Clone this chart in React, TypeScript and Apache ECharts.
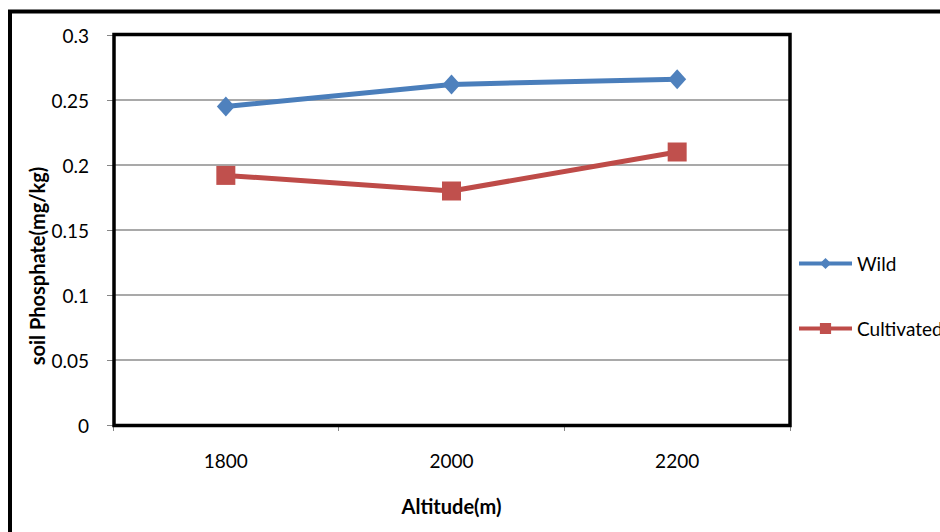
import React, { useEffect, useRef } from "react";
import * as echarts from "echarts";

// Soil phosphate by altitude for wild and cultivated sites
const altitudes = ["1800", "2000", "2200"];
const wildValues = [0.245, 0.262, 0.266];
const cultivatedValues = [0.192, 0.18, 0.21];
const yTicks = { min: 0, max: 0.3, interval: 0.05 };

const FONT = "Lato, 'Open Sans', sans-serif";

export default function App() {
  const ref = useRef<HTMLDivElement>(null);

  useEffect(() => {
    if (!ref.current) return;
    const chart = echarts.init(ref.current, null, { renderer: "svg" });
    chart.setOption({
      animation: false,
      backgroundColor: "#ffffff",
      textStyle: { fontFamily: FONT, color: "#000" },
      grid: { left: 113, right: 150, top: 35, bottom: 107, containLabel: false },
      legend: {
        orient: "vertical",
        left: 797,
        top: 254,
        padding: 0,
        itemWidth: 53,
        itemHeight: 14,
        itemGap: 46,
        lineStyle: { width: 4 },
        textStyle: { fontFamily: FONT, fontSize: 19, color: "#000" },
        data: ["Wild", "Cultivated"],
      },
      xAxis: {
        type: "category",
        data: altitudes,
        boundaryGap: true,
        name: "Altitude(m)",
        nameLocation: "middle",
        nameGap: 71,
        nameTextStyle: { fontFamily: FONT, fontSize: 20, fontWeight: "bold", color: "#000" },
        axisLine: { lineStyle: { color: "#868686", width: 1 } },
        axisTick: { show: true, length: 6, lineStyle: { color: "#868686" } },
        axisLabel: { margin: 26, fontFamily: FONT, fontSize: 19, color: "#000" },
      },
      yAxis: {
        type: "value",
        min: yTicks.min,
        max: yTicks.max,
        interval: yTicks.interval,
        axisLine: { show: true, lineStyle: { color: "#868686", width: 1 } },
        axisTick: { show: true, length: 6, lineStyle: { color: "#868686" } },
        axisLabel: {
          margin: 24,
          fontFamily: FONT,
          fontSize: 19,
          color: "#000",
          formatter: (v: number) => String(parseFloat(v.toFixed(2))),
        },
        splitLine: { show: true, lineStyle: { color: "#8c8c8c", width: 1.5 } },
      },
      series: [
        {
          name: "Wild",
          type: "line",
          data: wildValues,
          symbol: "diamond",
          symbolSize: [18, 20],
          lineStyle: { color: "#4A7EBB", width: 5 },
          itemStyle: { color: "#4F81BD" },
          z: 3,
        },
        {
          name: "Cultivated",
          type: "line",
          data: cultivatedValues,
          symbol: "rect",
          symbolSize: 19,
          lineStyle: { color: "#BE4B48", width: 5 },
          itemStyle: { color: "#C0504D" },
          z: 3,
        },
      ],
      graphic: [
        // outer chart frame, running off the right and bottom edges
        {
          type: "rect",
          z: 100,
          silent: true,
          shape: { x: 10, y: 11.5, width: 1000, height: 600 },
          style: { fill: "none", stroke: "#000", lineWidth: 4 },
        },
        // plot area frame
        {
          type: "rect",
          z: 100,
          silent: true,
          shape: { x: 114, y: 34.5, width: 676, height: 391 },
          style: { fill: "none", stroke: "#000", lineWidth: 3.5 },
        },
        {
          type: "text",
          z: 100,
          x: 37,
          y: 266,
          rotation: Math.PI / 2,
          style: {
            text: "soil Phosphate(mg/kg)",
            fontFamily: FONT,
            fontSize: 20,
            fontWeight: "bold",
            fill: "#000",
            align: "center",
            verticalAlign: "middle",
          },
        },
      ],
    });
    return () => chart.dispose();
  }, []);

  return (
    <div
      ref={ref}
      style={{ position: "fixed", left: 0, top: 0, width: 940, height: 532 }}
    />
  );
}
